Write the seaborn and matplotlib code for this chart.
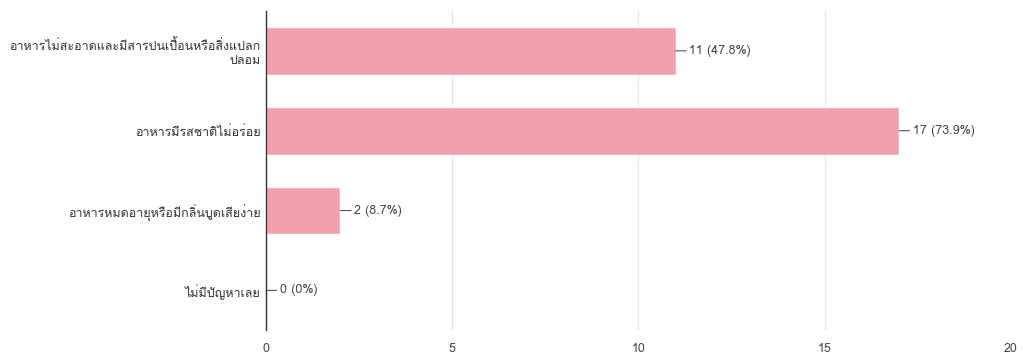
import matplotlib
matplotlib.use("Agg")
import matplotlib.pyplot as plt
import seaborn as sns
import pandas as pd
from matplotlib import font_manager
from matplotlib.ft2font import FT2Font

categories = [
    "อาหารไม่สะอาดและมีสารปนเปื้อนหรือสิ่งแปลก\nปลอม",
    "อาหารมีรสชาติไม่อร่อย",
    "อาหารหมดอายุหรือมีกลิ่นบูดเสียง่าย",
    "ไม่มีปัญหาเลย",
]
counts = [11, 17, 2, 0]
percents = ["47.8%", "73.9%", "8.7%", "0%"]
xticks = [0, 5, 10, 15, 20]

sns.set_theme(style="white")

# find a font covering Thai
thai_font = None
for f in font_manager.fontManager.ttflist:
    try:
        ft = FT2Font(f.fname)
        cmap = ft.get_charmap()
        if 0x0E2D in cmap and 0x0E32 in cmap:
            thai_font = f.name
            break
    except Exception:
        pass
fams = ([thai_font] if thai_font else []) + ["DejaVu Sans"]
plt.rcParams["font.family"] = fams

df = pd.DataFrame({"label": categories, "count": counts})

fig = plt.figure(figsize=(10.23, 3.63), dpi=100)
ax = fig.add_axes([0.26, 0.09, 0.728, 0.88])

sns.barplot(data=df, y="label", x="count", orient="h", color="#F2A0AC",
            saturation=1, width=0.6, ax=ax)

ax.set_xlim(0, 20)
ax.set_ylim(3.5, -0.5)
ax.set_xticks(xticks)
ax.set_xticklabels([str(t) for t in xticks], fontsize=9, color="#444444")
ax.xaxis.grid(True, color="#e6e6e6", linewidth=1)
ax.set_axisbelow(True)
for s in ["top", "right", "bottom"]:
    ax.spines[s].set_visible(False)
ax.spines["left"].set_color("#333333")
ax.spines["left"].set_linewidth(1)
ax.tick_params(axis="both", length=0)
ax.tick_params(axis="y", labelsize=9, labelcolor="#333333", pad=4)
ax.tick_params(axis="x", pad=9)
ax.set_xlabel("")
ax.set_ylabel("")

for i, (c, p) in enumerate(zip(counts, percents)):
    ax.annotate(f"{c} ({p})", xy=(c, i), xytext=(10, 0), textcoords="offset points",
                va="center", ha="left", fontsize=9, color="#444444",
                arrowprops=dict(arrowstyle="-", color="#555555", lw=0.8,
                                shrinkA=0, shrinkB=0))

fig.savefig("out.png", dpi=100)
